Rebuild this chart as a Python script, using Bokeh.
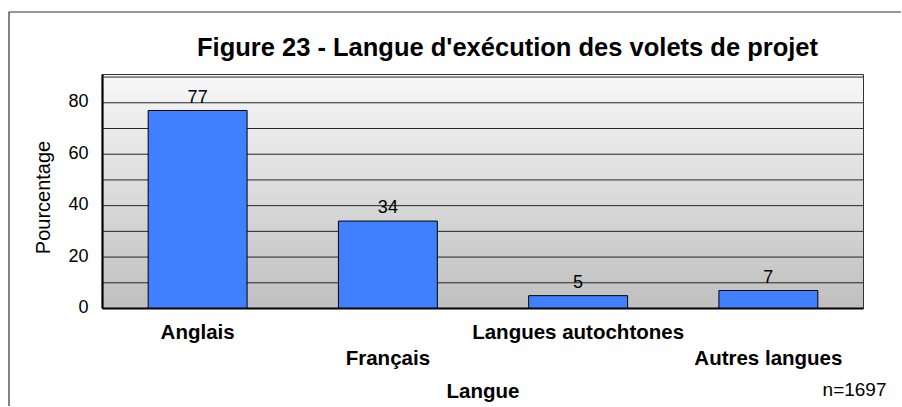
import math
import numpy as np
from bokeh.plotting import figure
from bokeh.core.properties import value
from bokeh.models import Range1d, ColumnDataSource
from bokeh.embed import file_html
from bokeh.resources import INLINE

# ---- data ----
categories = ["Anglais", "Français", "Langues autochtones", "Autres langues"]
values = [77, 34, 5, 7]
label_rows = [0, 1, 0, 1]          # staggered category label rows
y_ticks = [0, 20, 40, 60, 80]
grid_ticks = [10, 20, 30, 40, 50, 60, 70, 80, 90]
title_text = "Figure 23 - Langue d'exécution des volets de projet"
y_title = "Pourcentage"
x_title = "Langue"
note_text = "n=1697"

# ---- layout constants (canvas px) ----
W, H = 901, 406
PL, PT, PR, PB = 102, 74, 863, 308      # plot area box
Y_MAX = 91
X_MAX = len(categories)
FONT = "Liberation Sans"
MID = 0.35                                # baseline -> middle, in em

PPX = (PR - PL) / X_MAX
PPY = (PB - PT) / Y_MAX


def X(px):
    return (px - PL) / PPX


def Y(py):
    return (PB - py) / PPY


def YB(baseline_px, size):
    """data y of the middle of a text whose baseline is at baseline_px"""
    return Y(baseline_px - MID * size)


p = figure(width=W, height=H,
           x_range=Range1d(X(0), X(W)), y_range=Range1d(Y(H), Y(0)),
           min_border=0, output_backend="svg", toolbar_location=None,
           x_axis_location=None, y_axis_location=None,
           background_fill_color="white", border_fill_color="white")
p.grid.visible = False
p.outline_line_color = None

# gradient background of plot area
n = PB - PT
t = np.linspace(0.0, 1.0, n)
gray = (0xc0 + (0xf8 - 0xc0) * t).astype(np.uint8)
img = np.empty((n, 1), dtype=np.uint32)
view = img.view(dtype=np.uint8).reshape((n, 1, 4))
view[:, :, 0] = gray[:, None]
view[:, :, 1] = gray[:, None]
view[:, :, 2] = gray[:, None]
view[:, :, 3] = 255
p.image_rgba(image=[img], x=0, y=0, dw=X_MAX, dh=Y_MAX)

# horizontal grid lines
p.segment(x0=0, x1=X_MAX, y0=grid_ticks, y1=grid_ticks,
          line_color="#262626", line_width=1)

# bars
VS, CS = 18, 20.5
centers = [i + 0.5 for i in range(len(categories))]
src = ColumnDataSource(dict(
    x=centers, val=values, cat=categories,
    lab=[str(v) for v in values],
    laby=[v + (8 + MID * VS) / PPY for v in values],
    caty=[YB(PB + 30 + 26 * r, CS) for r in label_rows]))
p.vbar(x="x", top="val", width=0.52, source=src,
       fill_color="#4080ff", line_color="black", line_width=1)

# plot area border (thin top/right) and axis lines (thick left/bottom)
p.quad(left=0, right=X_MAX, bottom=0, top=Y_MAX, fill_color=None,
       line_color="#333333", line_width=1)
p.segment(x0=[0, 0], x1=[0, X_MAX], y0=[0, 0], y1=[Y_MAX, 0],
          line_color="black", line_width=2.2)

# y tick labels
p.text(x=0, y=[v + 1.8 / PPY for v in y_ticks],
       text=[str(v) for v in y_ticks], x_offset=-14,
       text_align="right", text_baseline="middle", text_font=value(FONT),
       text_font_size="18px", text_color="black")

# y axis title
p.text(x=X(42), y=Y(197), text=[y_title], angle=math.pi / 2,
       text_align="center", text_baseline="middle", text_font=value(FONT),
       text_font_size="20px", text_color="black")

# value labels
p.text(x="x", y="laby", text="lab", source=src, text_align="center",
       text_baseline="middle", text_font=value(FONT),
       text_font_size=f"{VS}px", text_color="black")

# category labels (staggered)
p.text(x="x", y="caty", text="cat", source=src, text_align="center",
       text_baseline="middle", text_font=value(FONT),
       text_font_size=f"{CS}px", text_font_style="bold", text_color="black")

# title
p.text(x=X(507), y=YB(55, 25.5), text=[title_text], text_align="center",
       text_baseline="middle", text_font=value(FONT),
       text_font_size="25.5px", text_font_style="bold", text_color="black")

# x axis title
p.text(x=X_MAX / 2, y=YB(397.5, CS), text=[x_title], text_align="center",
       text_baseline="middle", text_font=value(FONT),
       text_font_size=f"{CS}px", text_font_style="bold", text_color="black")

# n note
p.text(x=X(886), y=YB(395.5, 19), text=[note_text], text_align="right",
       text_baseline="middle", text_font=value(FONT),
       text_font_size="19px", text_color="black")

# outer chart border (continues past the right and bottom edges)
p.quad(left=X(8.5), right=X(W + 50), top=Y(11.5), bottom=Y(H + 50),
       fill_color=None, line_color="#333333", line_width=1.2)

open("out.html", "w").write(file_html(p, INLINE))
